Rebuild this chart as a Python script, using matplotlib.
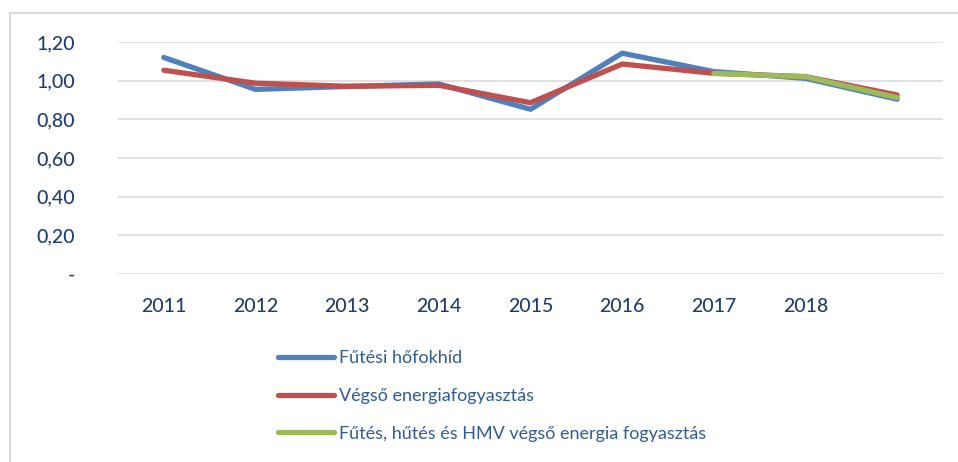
import numpy as np
import matplotlib.pyplot as plt
from matplotlib.lines import Line2D

years = ["2011", "2012", "2013", "2014", "2015", "2016", "2017", "2018", ""]
hofokhid = [1.12, 0.955, 0.97, 0.983, 0.852, 1.142, 1.047, 1.012, 0.904]
vegso = [1.054, 0.987, 0.971, 0.976, 0.886, 1.086, 1.038, 1.021, 0.926]
futes_hmv = [None, None, None, None, None, None, 1.038, 1.02, 0.912]
yticks = [0, 0.2, 0.4, 0.6, 0.8, 1.0, 1.2]
ylabels = ["-", "0,20", "0,40", "0,60", "0,80", "1,00", "1,20"]

plt.rcParams['font.family'] = ['Lato', 'DejaVu Sans']

fig = plt.figure(figsize=(9.58, 4.62), dpi=100)
ax = fig.add_axes([118/958, 1 - 274/462, (943-118)/958, (274-42)/462])

x = np.arange(len(years))
green = np.array([np.nan if v is None else v for v in futes_hmv], dtype=float)
ax.plot(x, hofokhid, color='#4F81BD', lw=3.8, solid_capstyle='round', label='Fűtési hőfokhíd')
ax.plot(x, vegso, color='#C0504D', lw=3.8, solid_capstyle='round', label='Végső energiafogyasztás')
ax.plot(x, green, color='#9BBB59', lw=3.8, solid_capstyle='round',
        label='Fűtés, hűtés és HMV végső energia fogyasztás')

ax.set_xlim(-0.5, len(years) - 0.5)
ax.set_ylim(0, 1.2)
ax.set_yticks(yticks)
ax.set_yticklabels(ylabels)
ax.set_xticks(x)
ax.set_xticklabels(years)
ax.grid(axis='y', color='#D9D9D9', lw=1.1)
ax.set_axisbelow(True)
for s in ax.spines.values():
    s.set_visible(False)
ax.tick_params(axis='y', length=0, pad=31, labelsize=14, labelcolor='#1F3F73')
ax.tick_params(axis='x', length=0, pad=17, labelsize=14, labelcolor='#1F3F73')
for t in ax.get_xticklabels() + ax.get_yticklabels():
    t.set_fontweight('medium')

handles, labels = ax.get_legend_handles_labels()
leg = fig.legend(handles, labels, loc='upper left', bbox_to_anchor=(262/958, 1 - 334/462),
                 frameon=False, fontsize=13, handlelength=3.1, handletextpad=0.25,
                 labelspacing=1.2, labelcolor='#2E5C9A')

# outer chart border (left and top only visible)
fig.add_artist(Line2D([9.5/958, 9.5/958], [0, 1 - 13/462], color='#D9D9D9', lw=1.5,
                      transform=fig.transFigure))
fig.add_artist(Line2D([9.5/958, 1], [1 - 13/462, 1 - 13/462], color='#D9D9D9', lw=1.5,
                      transform=fig.transFigure))

fig.savefig('out.png', dpi=100)
